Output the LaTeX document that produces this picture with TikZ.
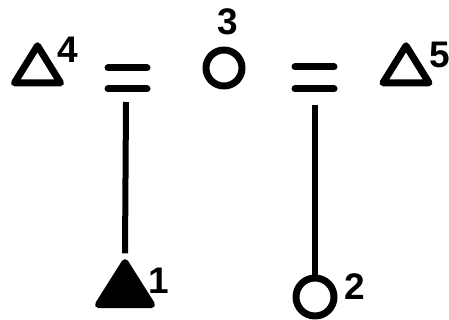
\documentclass[tikz,border=0pt]{standalone}
\usepackage{fontspec}
\setsansfont{Liberation Sans}
\usetikzlibrary{shapes.geometric}

\begin{document}
\begin{tikzpicture}[x=1pt,y=-1pt,
  sym/.style={draw, line width=7pt, line join=round, inner sep=0pt},
  male/.style={sym, isosceles triangle, shape border rotate=90, isosceles triangle stretches,
    minimum width=46pt, minimum height=37pt},
  female/.style={sym, circle, minimum size=36pt},
  num/.style={font=\sffamily\bfseries\fontsize{37}{37}\selectfont, inner sep=0pt},
  bar/.style={line width=7pt, line cap=round},
  link/.style={line width=6pt}]
  \useasboundingbox (0,0) rectangle (449,320);
  \node[male] (p4) at (37.5,70) {};
  \node[num] (n4) at (68,50) {4};
  \node[female] (p3) at (224,68) {};
  \node[num] (n3) at (228,22) {3};
  \node[male] (p5) at (406,70) {};
  \node[num] (n5) at (440,55) {5};
  \node[male, fill, minimum width=53pt, minimum height=42pt] (p1) at (125,290) {};
  \node[num] (n1) at (159,281) {1};
  \node[female, minimum size=38pt] (p2) at (315,297) {};
  \node[num] (n2) at (355,287) {2};
  % marriage lines
  \draw[bar] (108,68) -- (147,68) (108,89) -- (147,89);
  \draw[bar] (295,67) -- (334,67) (295,89) -- (334,89);
  \coordinate (m45) at (126,102);
  \coordinate (m35) at (315,105);
  \draw[link] (m45) -- (p1.apex);
  \draw[link] (m35) -- (p2.north);
\end{tikzpicture}
\end{document}
